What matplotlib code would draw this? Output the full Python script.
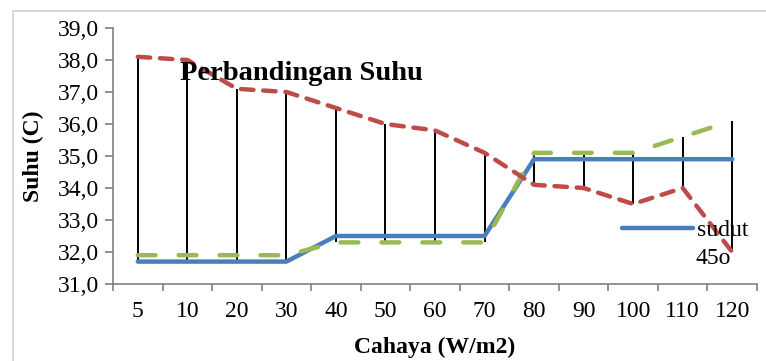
import numpy as np
import matplotlib.pyplot as plt
from matplotlib.patches import Rectangle

plt.rcParams['font.family'] = ['Liberation Serif', 'DejaVu Serif']

cahaya = ['5', '10', '20', '30', '40', '50', '60', '70', '80', '90', '100', '110', '120']
sudut45 = [31.7, 31.7, 31.7, 31.7, 32.5, 32.5, 32.5, 32.5, 34.9, 34.9, 34.9, 34.9, 34.9]
sudut_hijau = [31.9, 31.9, 31.9, 31.9, 32.3, 32.3, 32.3, 32.3, 35.1, 35.1, 35.1, 35.6, 36.1]
sudut_merah = [38.1, 38.0, 37.1, 37.0, 36.5, 36.0, 35.8, 35.1, 34.1, 34.0, 33.5, 34.0, 32.0]

x = np.arange(len(cahaya))
W, H = 766, 361
fig = plt.figure(figsize=(W / 100, H / 100), dpi=100)
ax = fig.add_axes([113 / W, 77 / H, 644 / W, 256 / H])

# bingkai chart
fig.patches.append(Rectangle((13 / W, -0.1), 1.2, (H - 11) / H + 0.1,
                             transform=fig.transFigure, fill=False,
                             edgecolor='#d0d0d0', linewidth=1.2))

# garis high-low antara nilai tertinggi dan terendah
semua = np.array([sudut45, sudut_hijau, sudut_merah])
ax.vlines(x, semua.min(axis=0), semua.max(axis=0), color='black', linewidth=1.4, zorder=2)

garis45, = ax.plot(x, sudut45, color='#4a7ebb', linewidth=3.2, solid_capstyle='round', zorder=3)
ax.plot(x, sudut_hijau, color='#98b954', linewidth=3.2, dashes=(4, 5.2),
        dash_capstyle='round', zorder=3)
ax.plot(x, sudut_merah, color='#be4b48', linewidth=3.2, dashes=(2.8, 2.2),
        dash_capstyle='round', zorder=4)

ax.set_xlim(-0.5, len(cahaya) - 0.5)
ax.set_ylim(31, 39)
yt = np.arange(31, 39.1, 1)
ax.set_yticks(yt)
ax.set_yticklabels(['{:.1f}'.format(v).replace('.', ',') for v in yt])
ax.set_xticks(x)
ax.set_xticklabels(cahaya)
ax.set_xticks(np.arange(-0.5, len(cahaya), 1), minor=True)
ax.tick_params(axis='x', which='major', length=0, pad=12, labelsize=17)
ax.tick_params(axis='x', which='minor', length=5, color='#808080', width=1.2)
ax.tick_params(axis='y', length=6, color='#808080', width=1.2, labelsize=17, pad=4)

for s in ['top', 'right']:
    ax.spines[s].set_visible(False)
for s in ['left', 'bottom']:
    ax.spines[s].set_color('#808080')
    ax.spines[s].set_linewidth(1.2)

ax.set_xlabel('Cahaya (W/m2)', fontsize=17, fontweight='bold')
ax.xaxis.set_label_coords(0.5, -0.205)
ax.set_ylabel('Suhu (C)', fontsize=17, fontweight='bold')
ax.yaxis.set_label_coords(-0.124, 0.5)
ax.yaxis.label.set_va('center')
fig.text(180 / W, (H - 74) / H, 'Perbandingan Suhu', fontsize=20.5, fontweight='bold',
         va='center', ha='left')

ax.legend([garis45], ['sudut'], loc='upper left', bbox_to_anchor=(610 / W, (H - 208) / H),
          bbox_transform=fig.transFigure, frameon=False, fontsize=17,
          handlelength=3.0, handletextpad=0.2, borderpad=0)
fig.text(695 / W, (H - 258) / H, '45o', fontsize=17, va='center', ha='left')

fig.savefig('out.png', dpi=100)
